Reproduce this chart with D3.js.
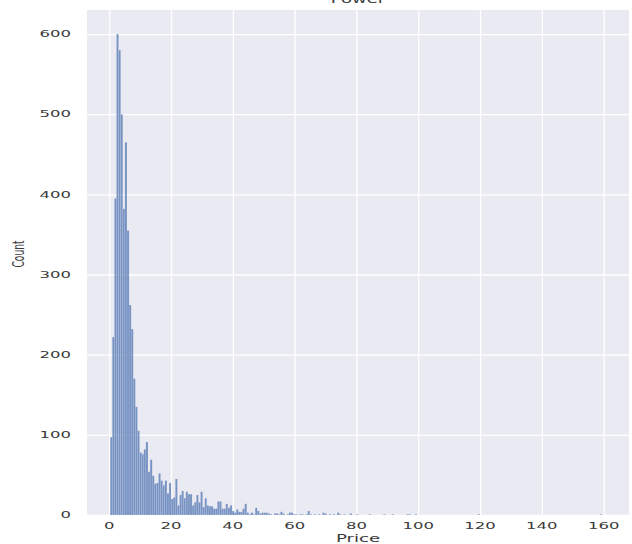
<!DOCTYPE html>
<html>
<head>
<meta charset="utf-8">
<script src="https://cdn.jsdelivr.net/npm/d3@7"></script>
<style>
  body { margin: 0; background: #ffffff; }
  svg text { font-family: "DejaVu Sans", sans-serif; fill: #3a3a3a; }
</style>
</head>
<body>
<svg id="chart" width="632" height="544"></svg>
<script>
// Histogram of prices: fixed-width bins starting at binStart
const title = "Power";
const xLabel = "Price";
const yLabel = "Count";
const binStart = 0.3;
const binWidth = 0.68;
const counts = [
  97, 222, 395, 600, 580, 500, 382, 465, 355, 262,
  232, 170, 135, 105, 78, 76, 82, 91, 54, 69,
  49, 39, 40, 52, 43, 37, 43, 27, 40, 20,
  22, 45, 12, 25, 30, 21, 29, 26, 26, 12,
  16, 25, 16, 29, 10, 21, 12, 11, 11, 8,
  8, 17, 17, 8, 8, 14, 9, 12, 5, 3,
  7, 4, 4, 8, 14, 3, 1, 3, 1, 9,
  5, 2, 3, 3, 3, 2, 1, 0, 2, 2,
  1, 4, 2, 0, 1, 3, 3, 1, 1, 0,
  1, 1, 0, 1, 5, 1, 0, 1, 0, 1,
  0, 3, 2, 0, 1, 0, 1, 0, 3, 1,
  0, 1, 0, 0, 2, 0, 0, 1, 0, 0,
  0, 0, 0, 1, 0, 0, 0, 0, 0, 0,
  1, 0, 0, 0, 1, 0, 0, 0, 0, 0,
  0, 1, 1, 0, 0, 1, 0, 0, 0, 0,
  0, 0, 0, 0, 0, 0, 0, 0, 0, 0,
  0, 0, 0, 0, 0, 0, 0, 0, 0, 0,
  0, 0, 0, 0, 0, 1, 0, 0, 0, 0,
  0, 0, 0, 0, 0, 0, 0, 0, 0, 0,
  0, 0, 0, 0, 0, 0, 0, 0, 0, 0,
  0, 0, 0, 0, 0, 0, 0, 0, 0, 0,
  0, 0, 0, 0, 0, 0, 0, 0, 0, 0,
  0, 0, 0, 0, 0, 0, 0, 0, 0, 0,
  0, 0, 0, 1
];
const xTicks = [0, 20, 40, 60, 80, 100, 120, 140, 160];
const yTicks = [0, 100, 200, 300, 400, 500, 600];

const svg = d3.select("#chart");
const plot = { left: 87, right: 629, top: 10, bottom: 515 };

const x = d3.scaleLinear().domain([-7.2, 168.2]).range([plot.left, plot.right]);
const y = d3.scaleLinear().domain([0, 630]).range([plot.bottom, plot.top]);

// axes background
svg.append("rect")
  .attr("x", plot.left).attr("y", plot.top)
  .attr("width", plot.right - plot.left).attr("height", plot.bottom - plot.top)
  .attr("fill", "#eaeaf2");

// white grid via d3 axes with full-length ticks
const gx = svg.append("g")
  .attr("transform", `translate(0,${plot.bottom})`)
  .call(d3.axisBottom(x).tickValues(xTicks).tickSize(-(plot.bottom - plot.top)).tickFormat(""));
const gy = svg.append("g")
  .attr("transform", `translate(${plot.left},0)`)
  .call(d3.axisLeft(y).tickValues(yTicks).tickSize(-(plot.right - plot.left)).tickFormat(""));
[gx, gy].forEach(g => {
  g.select(".domain").remove();
  g.selectAll(".tick line").attr("stroke", "#ffffff").attr("stroke-width", 1.3);
});

// histogram bars
const bins = counts.map((c, i) => ({ x0: binStart + i * binWidth, x1: binStart + (i + 1) * binWidth, count: c }))
  .filter(d => d.count > 0);
svg.append("g")
  .selectAll("rect")
  .data(bins)
  .join("rect")
  .attr("x", d => x(d.x0))
  .attr("y", d => y(d.count))
  .attr("width", d => x(d.x1) - x(d.x0))
  .attr("height", d => y(0) - y(d.count))
  .attr("fill", "#4c72b0")
  .attr("fill-opacity", 0.72)
  .attr("stroke", "#ffffff")
  .attr("stroke-opacity", 0.35)
  .attr("stroke-width", 0.35);

// stretched text helper (wide, short lettering)
function label(txt, px, py, size, anchor, sx, sy, rot) {
  svg.append("text")
    .attr("transform", `translate(${px},${py}) scale(${sx},${sy})` + (rot ? ` rotate(${rot})` : ""))
    .attr("text-anchor", anchor)
    .attr("dominant-baseline", "central")
    .attr("font-size", size)
    .text(txt);
}

// tick labels
xTicks.forEach(v => label(String(v), x(v), 526, 10, "middle", 1.65, 0.95));
yTicks.forEach(v => label(String(v), 71, y(v), 10, "end", 1.65, 0.95));

// axis titles and chart title
label(xLabel, (plot.left + plot.right) / 2, 538, 11, "middle", 1.65, 0.95);
label(yLabel, 19, 254, 11, "middle", 1.4, 0.83, -90);
svg.append("text")
  .attr("transform", `translate(${(plot.left + plot.right) / 2},3) scale(1.5,0.85)`)
  .attr("text-anchor", "middle")
  .attr("font-size", 12)
  .text(title);
</script>
</body>
</html>
